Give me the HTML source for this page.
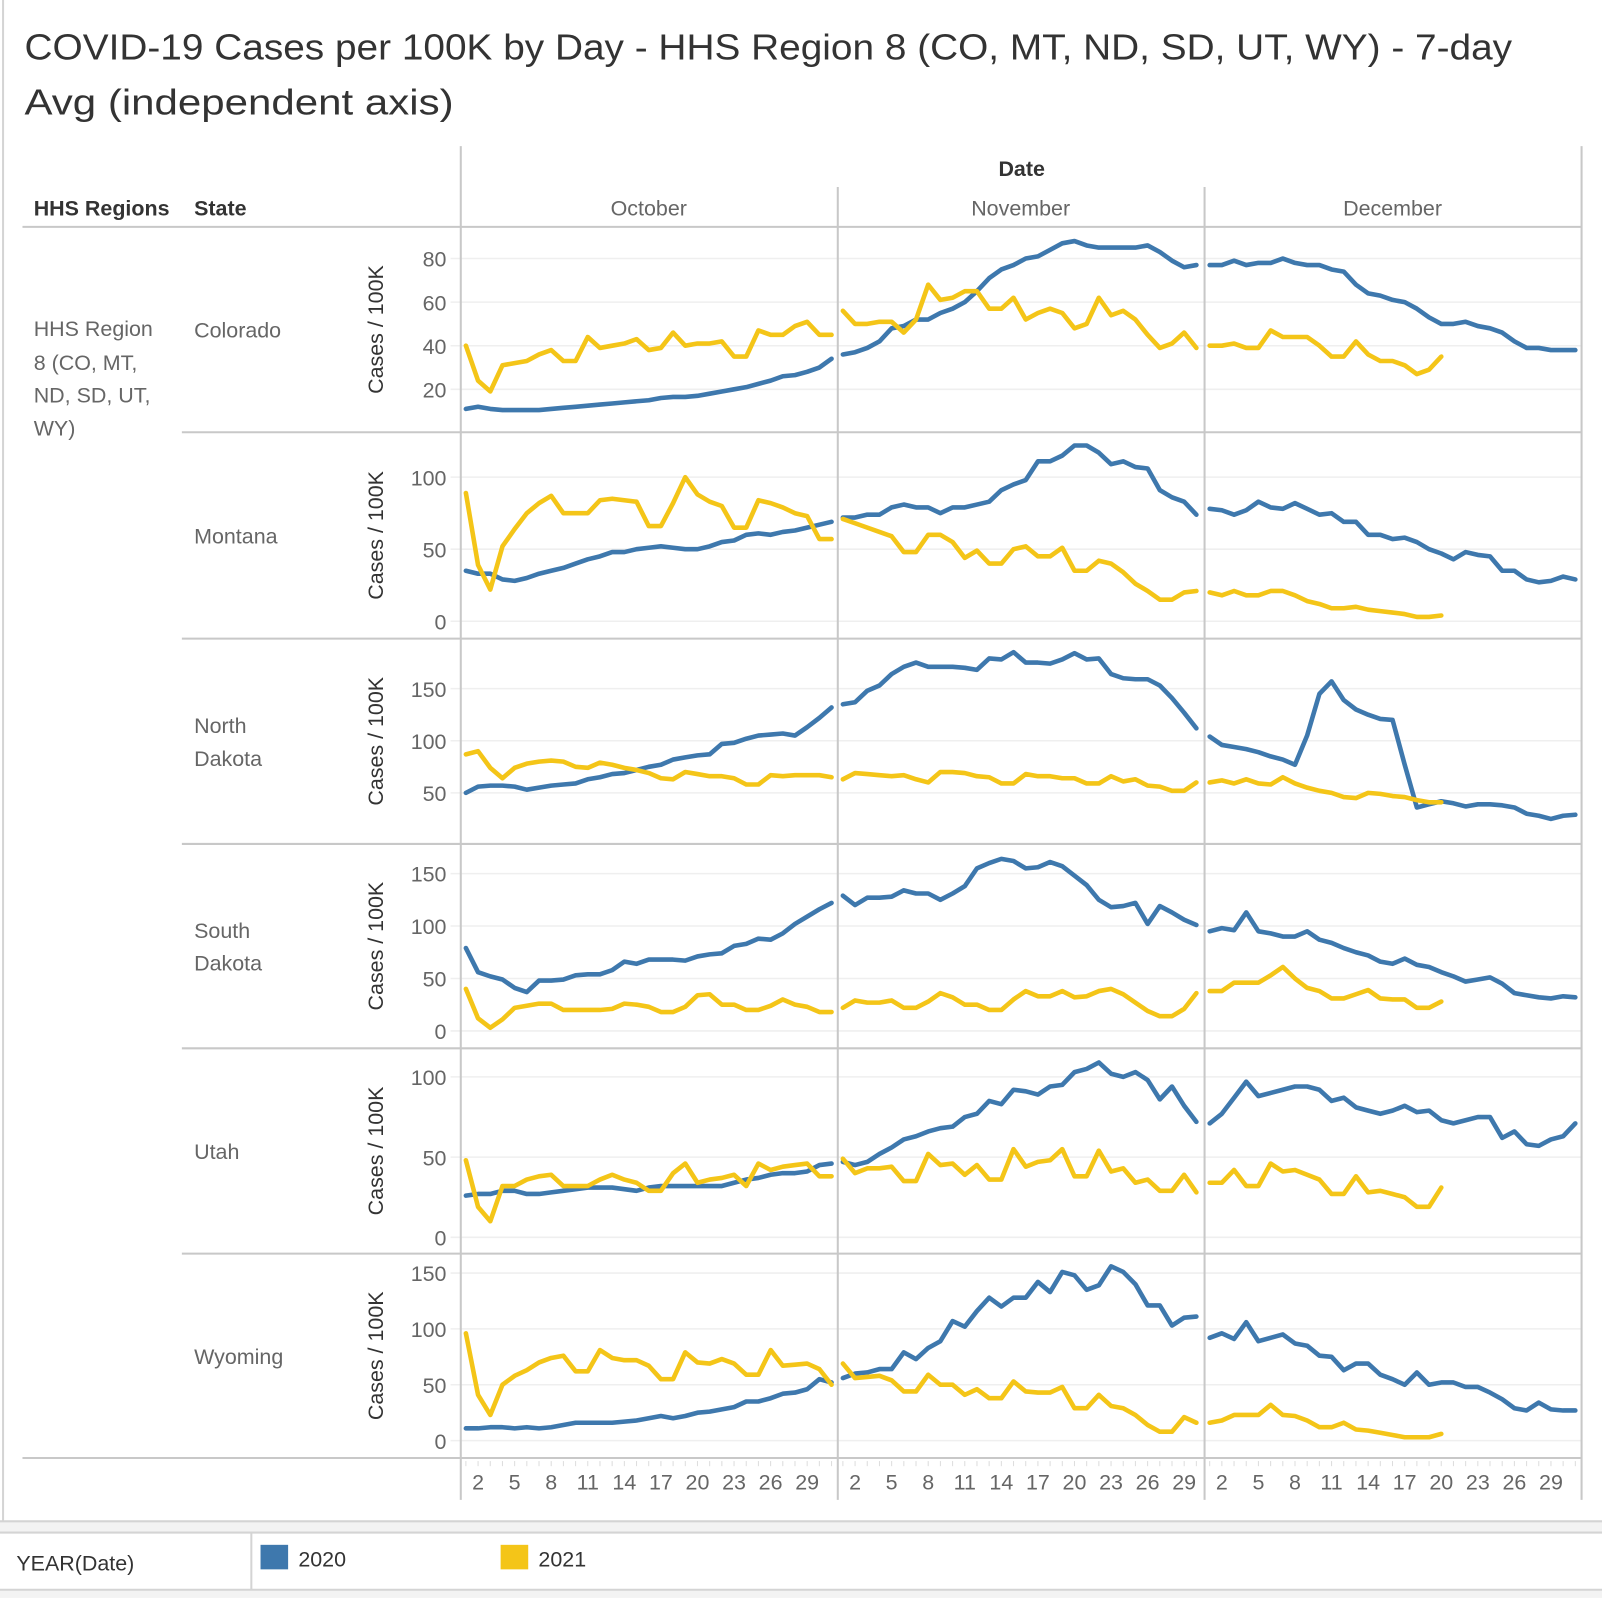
<!DOCTYPE html>
<html><head><meta charset="utf-8"><style>
html,body{margin:0;padding:0;background:#fff;}
svg{display:block;font-family:"Liberation Sans",sans-serif;}
</style></head><body>
<svg id="chart" width="1602" height="1598" viewBox="0 0 1568 1564" xmlns="http://www.w3.org/2000/svg">
<rect x="0" y="0" width="1568" height="1564" fill="#fff"/>
<line x1="3" y1="0" x2="3" y2="1489" stroke="#d4d4d4" stroke-width="2"/>
<text x="24" y="58" font-size="35" fill="#333" textLength="1456" lengthAdjust="spacingAndGlyphs">COVID-19 Cases per 100K by Day - HHS Region 8 (CO, MT, ND, SD, UT, WY) - 7-day</text>
<text x="24" y="112" font-size="35" fill="#333" textLength="420" lengthAdjust="spacingAndGlyphs">Avg (independent axis)</text>
<text x="1000" y="172" font-size="21" font-weight="bold" fill="#333" text-anchor="middle">Date</text>
<text x="33" y="211" font-size="21" font-weight="bold" fill="#333">HHS Regions</text>
<text x="190" y="211" font-size="21" font-weight="bold" fill="#333">State</text>
<text x="635" y="211" font-size="21" fill="#666" text-anchor="middle">October</text>
<text x="999" y="211" font-size="21" fill="#666" text-anchor="middle">November</text>
<text x="1363" y="211" font-size="21" fill="#666" text-anchor="middle">December</text>
<text font-size="21" fill="#666"><tspan x="33" y="329">HHS Region</tspan><tspan x="33" y="362">8 (CO, MT,</tspan><tspan x="33" y="394">ND, SD, UT,</tspan><tspan x="33" y="426">WY)</tspan></text>
<g id="grid"></g>
<g id="frame"></g>
<g id="marks"></g>
<g id="xaxis"></g>
<rect x="0" y="1489" width="1568" height="11" fill="#f3f3f3"/>
<line x1="0" y1="1489" x2="1568" y2="1489" stroke="#d4d4d4" stroke-width="2"/>
<line x1="0" y1="1500" x2="1568" y2="1500" stroke="#d4d4d4" stroke-width="2"/>
<rect x="0" y="1556" width="1568" height="8" fill="#f3f3f3"/>
<line x1="0" y1="1556" x2="1568" y2="1556" stroke="#d4d4d4" stroke-width="2"/>
<line x1="246" y1="1500" x2="246" y2="1556" stroke="#d4d4d4" stroke-width="2"/>
<text x="16" y="1537" font-size="21" fill="#333">YEAR(Date)</text>
<g><rect x="255" y="1512" width="27" height="24" fill="#3e78ad"/><text x="292" y="1533" font-size="21" fill="#333">2020</text></g>
<g><rect x="490" y="1512" width="27" height="24" fill="#f4c518"/><text x="527" y="1533" font-size="21" fill="#333">2021</text></g>
</svg>
<script>
const states = ["Colorado","Montana","North Dakota","South Dakota","Utah","Wyoming"];
const yTicks = [[20,40,60,80],[0,50,100],[50,100,150],[0,50,100,150],[0,50,100],[0,50,100,150]];
const xTickLabels = [2,5,8,11,14,17,20,23,26,29];
const months = ["October","November","December"];
const daysInMonth = [31,30,31];
// per state: [oct2020, oct2021, nov2020, nov2021, dec2020, dec2021]
const co_oct20 = [11,12,11,10.5,10.5,10.5,10.5,11,11.5,12,12.5,13,13.5,14,14.5,15,16,16.5,16.5,17,18,19,20,21,22.5,24,26,26.5,28,30,34];
const co_oct21 = [40,24,19,31,32,33,36,38,33,33,44,39,40,41,43,38,39,46,40,41,41,42,35,35,47,45,45,49,51,45,45];
const co_nov20 = [36,37,39,42,48,49,52,52,55,57,60,65,71,75,77,80,81,84,87,88,86,85,85,85,85,86,83,79,76,77];
const co_nov21 = [56,50,50,51,51,46,52,68,61,62,65,65,57,57,62,52,55,57,55,48,50,62,54,56,52,45,39,41,46,39];
const co_dec20 = [77,77,79,77,78,78,80,78,77,77,75,74,68,64,63,61,60,57,53,50,50,51,49,48,46,42,39,39,38,38,38];
const co_dec21 = [40,40,41,39,39,47,44,44,44,40,35,35,42,36,33,33,31,27,29,35];
const mt_oct20 = [35,33,33,29,28,30,33,35,37,40,43,45,48,48,50,51,52,51,50,50,52,55,56,60,61,60,62,63,65,67,69];
const mt_oct21 = [89,39,22,52,64,75,82,87,75,75,75,84,85,84,83,66,66,82,100,88,83,80,65,65,84,82,79,75,73,57,57];
const mt_nov20 = [72,72,74,74,79,81,79,79,75,79,79,81,83,91,95,98,111,111,115,122,122,117,109,111,107,106,91,86,83,74];
const mt_nov21 = [71,68,65,62,59,48,48,60,60,55,44,49,40,40,50,52,45,45,51,35,35,42,40,34,26,21,15,15,20,21];
const mt_dec20 = [78,77,74,77,83,79,78,82,78,74,75,69,69,60,60,57,58,55,50,47,43,48,46,45,35,35,29,27,28,31,29];
const mt_dec21 = [20,18,21,18,18,21,21,18,14,12,9,9,10,8,7,6,5,3,3,4];
const nd_oct20 = [50,56,57,57,56,53,55,57,58,59,63,65,68,69,72,75,77,82,84,86,87,97,98,102,105,106,107,105,113,122,132];
const nd_oct21 = [87,90,74,64,74,78,80,81,80,75,74,79,77,74,72,69,64,63,70,68,66,66,64,58,58,67,66,67,67,67,65];
const nd_nov20 = [135,137,148,153,164,171,175,171,171,171,170,168,179,178,185,175,175,174,178,184,178,179,164,160,159,159,153,141,127,112];
const nd_nov21 = [63,69,68,67,66,67,63,60,70,70,69,66,65,59,59,68,66,66,64,64,59,59,66,61,63,57,56,52,52,60];
const nd_dec20 = [104,96,94,92,89,85,82,77,105,145,157,139,130,125,121,120,77,36,39,42,40,37,39,39,38,36,30,28,25,28,29];
const nd_dec21 = [60,62,59,63,59,58,65,59,55,52,50,46,45,50,49,47,46,43,41,41];
const sd_oct20 = [79,56,52,49,41,37,48,48,49,53,54,54,58,66,64,68,68,68,67,71,73,74,81,83,88,87,93,102,109,116,122];
const sd_oct21 = [40,12,3,11,22,24,26,26,20,20,20,20,21,26,25,23,18,18,23,34,35,25,25,20,20,24,30,25,23,18,18];
const sd_nov20 = [129,120,127,127,128,134,131,131,125,131,138,155,160,164,162,155,156,161,157,148,139,125,118,119,122,102,119,113,106,101];
const sd_nov21 = [22,29,27,27,29,22,22,28,36,32,25,25,20,20,30,38,33,33,38,32,33,38,40,35,27,19,14,14,21,36];
const sd_dec20 = [95,98,96,113,95,93,90,90,95,87,84,79,75,72,66,64,69,63,61,56,52,47,49,51,45,36,34,32,31,33,32];
const sd_dec21 = [38,38,46,46,46,53,61,50,41,38,31,31,35,39,31,30,30,22,22,28];
const ut_oct20 = [26,27,27,29,29,27,27,28,29,30,31,31,31,30,29,31,32,32,32,32,32,32,34,36,37,39,40,40,41,45,46];
const ut_oct21 = [48,19,10,32,32,36,38,39,32,32,32,36,39,36,34,29,29,40,46,34,36,37,39,32,46,42,44,45,46,38,38];
const ut_nov20 = [47,45,47,52,56,61,63,66,68,69,75,77,85,83,92,91,89,94,95,103,105,109,102,100,103,98,86,94,82,72];
const ut_nov21 = [49,40,43,43,44,35,35,52,45,46,39,45,36,36,55,44,47,48,55,38,38,54,41,43,34,36,29,29,39,28];
const ut_dec20 = [71,77,87,97,88,90,92,94,94,92,85,87,81,79,77,79,82,78,79,73,71,73,75,75,62,66,58,57,61,63,71];
const ut_dec21 = [34,34,42,32,32,46,41,42,39,36,27,27,38,28,29,27,25,19,19,31];
const wy_oct20 = [11,11,12,12,11,12,11,12,14,16,16,16,16,17,18,20,22,20,22,25,26,28,30,35,35,38,42,43,46,55,52];
const wy_oct21 = [96,41,23,50,58,63,70,74,76,62,62,81,74,72,72,67,55,55,79,70,69,73,69,59,59,81,67,68,69,64,50];
const wy_nov20 = [56,60,61,64,64,79,73,83,89,107,102,116,128,120,128,128,142,133,151,148,135,139,156,151,140,121,121,103,110,111];
const wy_nov21 = [69,56,57,58,54,44,44,59,50,50,41,46,38,38,53,44,43,43,48,29,29,41,31,29,23,14,8,8,21,16];
const wy_dec20 = [92,96,91,106,89,92,95,87,85,76,75,63,69,69,59,55,50,61,50,52,52,48,48,43,37,29,27,34,28,27,27];
const wy_dec21 = [16,18,23,23,23,32,23,22,18,12,12,16,10,9,7,5,3,3,3,6];
const series2020 = [[co_oct20,co_nov20,co_dec20],[mt_oct20,mt_nov20,mt_dec20],[nd_oct20,nd_nov20,nd_dec20],[sd_oct20,sd_nov20,sd_dec20],[ut_oct20,ut_nov20,ut_dec20],[wy_oct20,wy_nov20,wy_dec20]];
const series2021 = [[co_oct21,co_nov21,co_dec21],[mt_oct21,mt_nov21,mt_dec21],[nd_oct21,nd_nov21,nd_dec21],[sd_oct21,sd_nov21,sd_dec21],[ut_oct21,ut_nov21,ut_dec21],[wy_oct21,wy_nov21,wy_dec21]];

const NS="http://www.w3.org/2000/svg";
function mk(tag, attrs, parent){const e=document.createElementNS(NS,tag);for(const k in attrs)e.setAttribute(k,attrs[k]);parent.appendChild(e);return e;}
const rowTop=[222,423,625,826,1026,1227];
const rowBot=[423,625,826,1026,1227,1427];
// scale anchors (value -> pixel) per row: [v1,y1,v2,y2]
const scales=[[20,381,80,253],[0,608,100,467],[50,776,150,674],[0,1009,150,855],[0,1211,100,1054],[0,1410,150,1246]];
const panelX=[451,820,1179], panelEnd=[820,1179,1548];
const dayStep=11.93;
function xScale(m,d){return panelX[m]+5+(d-1)*dayStep;}
function yScale(r,v){const s=scales[r];return s[1]+(v-s[0])*(s[3]-s[1])/(s[2]-s[0]);}

const grid=document.getElementById('grid'), frame=document.getElementById('frame'), marks=document.getElementById('marks'), xaxis=document.getElementById('xaxis');
// frame lines
mk('line',{x1:451,y1:143,x2:451,y2:1468,stroke:'#c8c8c8','stroke-width':2},frame);
mk('line',{x1:820,y1:183,x2:820,y2:1468,stroke:'#c8c8c8','stroke-width':2},frame);
mk('line',{x1:1179,y1:183,x2:1179,y2:1468,stroke:'#c8c8c8','stroke-width':2},frame);
mk('line',{x1:1548,y1:143,x2:1548,y2:1468,stroke:'#c8c8c8','stroke-width':2},frame);
mk('line',{x1:22,y1:222,x2:1548,y2:222,stroke:'#c8c8c8','stroke-width':2},frame);
mk('line',{x1:22,y1:1427,x2:1548,y2:1427,stroke:'#c8c8c8','stroke-width':2},frame);

for(let r=0;r<6;r++){
  if(r>0) mk('line',{x1:178,y1:rowTop[r],x2:1548,y2:rowTop[r],stroke:'#c8c8c8','stroke-width':2},frame);
  const names = states[r].split(' ');
  const lab=mk('text',{x:190,'font-size':21,fill:'#666'},grid);
  
  
  const midY=(rowTop[r]+rowBot[r])/2;
  names.forEach((n,i)=>{const t=mk('tspan',{x:190,y:midY+8+(i-(names.length-1)/2)*32},lab);t.textContent=n;});
  const yt=mk('text',{x:0,y:0,'font-size':21,fill:'#333',transform:`translate(375,${midY}) rotate(-90)`,'text-anchor':'middle'},grid);
  
  
  yt.textContent='Cases / 100K';
  yTicks[r].forEach(v=>{
    const y=yScale(r,v);
    mk('line',{x1:441,y1:y,x2:1548,y2:y,stroke:'#efefef','stroke-width':1.5},grid);
    const t=mk('text',{x:437,y:y+8,'font-size':21,fill:'#666','text-anchor':'end'},grid);
    
    
    t.textContent=v;
  });
  for(let m=0;m<3;m++){
    [[series2020,'#3e78ad','2020'],[series2021,'#f4c518','2021']].forEach(([S,col,yr])=>{
      const vals=S[r][m];
      const pts=vals.map((v,i)=>xScale(m,i+1).toFixed(1)+','+yScale(r,v).toFixed(1)).join(' ');
      const p=mk('polyline',{points:pts,fill:'none',stroke:col,'stroke-width':4.5,'stroke-linejoin':'round','stroke-linecap':'round'},marks);
      
      
    });
  }
}
for(let m=0;m<3;m++){
  for(let d=1;d<=daysInMonth[m];d++){
    const x=xScale(m,d);
    mk('line',{x1:x,y1:1430,x2:x,y2:1435,stroke:'#ddd','stroke-width':1},xaxis);
  }
  xTickLabels.forEach(d=>{
    const t=mk('text',{x:xScale(m,d),y:1458,'font-size':21,fill:'#666','text-anchor':'middle'},xaxis);
    
    
    t.textContent=d;
  });
}
</script>
</body></html>
